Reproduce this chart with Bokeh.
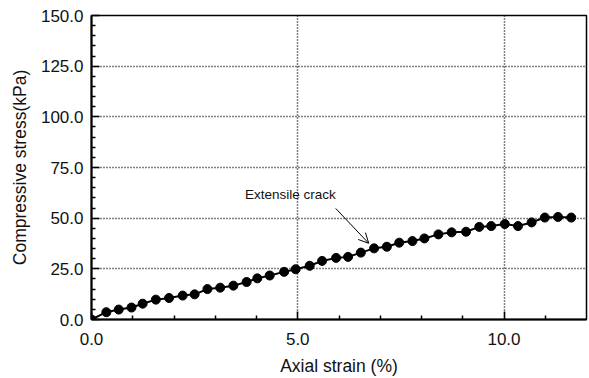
from bokeh.plotting import figure
from bokeh.models import Range1d, FixedTicker, PrintfTickFormatter, Arrow, OpenHead, Label
from bokeh.embed import file_html
from bokeh.resources import INLINE

strain = [0.0, 0.36, 0.66, 0.97, 1.24, 1.56, 1.88, 2.21, 2.50, 2.81, 3.12, 3.44, 3.76, 4.02,
          4.32, 4.67, 4.95, 5.29, 5.59, 5.93, 6.22, 6.53, 6.85, 7.16, 7.46, 7.78, 8.07, 8.41,
          8.73, 9.08, 9.40, 9.69, 10.02, 10.34, 10.67, 10.99, 11.31, 11.63]
stress = [0.0, 3.6, 4.9, 5.9, 7.8, 9.8, 10.6, 11.8, 12.4, 15.0, 15.7, 16.7, 18.5, 20.3,
          21.7, 23.5, 24.8, 26.5, 28.9, 30.4, 30.9, 33.0, 35.1, 35.9, 37.9, 38.7, 40.0, 42.0,
          43.0, 43.3, 45.7, 46.1, 47.1, 46.1, 47.9, 50.3, 50.6, 50.3]

x_ticks = [0, 5, 10]
y_ticks = [0, 25, 50, 75, 100, 125, 150]
x_grid = [5, 10]
y_grid = [25, 50, 75, 100, 125]

annot_text = "Extensile crack"
annot_pos = (3.72, 61.8)
arrow_tail = (5.92, 54.8)
arrow_head = (6.72, 37.6)

FONT = "Liberation Sans"

p = figure(width=589, height=378, output_backend="svg", toolbar_location=None,
           x_range=Range1d(0, 12), y_range=Range1d(0, 150),
           min_border_left=91, min_border_right=3, min_border_top=15, min_border_bottom=58)
p.background_fill_color = "white"
p.border_fill_color = "white"
p.outline_line_color = "black"
p.outline_line_width = 1.5

# axes
for ax in (p.xaxis[0], p.yaxis[0]):
    ax.axis_line_color = "black"
    ax.axis_line_width = 2
    ax.major_tick_in = 8
    ax.major_tick_out = 0
    ax.minor_tick_in = 4
    ax.minor_tick_out = 0
    ax.major_tick_line_color = "black"
    ax.minor_tick_line_color = "black"
    ax.major_tick_line_width = 1.5
    ax.minor_tick_line_width = 1.5
    ax.major_label_text_font = FONT
    ax.major_label_text_font_size = "17px"
    ax.major_label_text_color = "#111111"
    ax.axis_label_text_font = FONT
    ax.axis_label_text_font_size = "17.5px"
    ax.axis_label_text_font_style = "normal"
    ax.axis_label_text_color = "#111111"
    ax.formatter = PrintfTickFormatter(format="%.1f")

p.xaxis[0].ticker = FixedTicker(ticks=x_ticks, minor_ticks=[1, 2, 3, 4, 6, 7, 8, 9, 11])
p.yaxis[0].ticker = FixedTicker(ticks=y_ticks, minor_ticks=[v for v in range(0, 151, 5) if v % 25])
p.xaxis[0].axis_label = "Axial strain (%)"
p.yaxis[0].axis_label = "Compressive stress(kPa)"
p.xaxis[0].major_label_standoff = 13
p.xaxis[0].axis_label_standoff = 8
p.yaxis[0].major_label_standoff = 8
p.yaxis[0].axis_label_standoff = 8

# grid
p.xgrid[0].ticker = FixedTicker(ticks=x_grid)
p.ygrid[0].ticker = FixedTicker(ticks=y_grid)
for g in (p.xgrid[0], p.ygrid[0]):
    g.grid_line_color = "black"
    g.grid_line_dash = "1 2"
    g.grid_line_width = 1.5

p.line(strain, stress, line_color="black", line_width=2)
p.scatter(strain, stress, size=9, fill_color="black", line_color="black")

p.add_layout(Label(x=annot_pos[0], y=annot_pos[1], text=annot_text, text_font=FONT,
                   text_font_size="13.5px", text_baseline="middle", text_align="left",
                   text_color="#111111"))
p.add_layout(Arrow(end=OpenHead(size=10, line_width=1, line_color="black"),
                   x_start=arrow_tail[0], y_start=arrow_tail[1],
                   x_end=arrow_head[0], y_end=arrow_head[1],
                   line_color="black", line_width=1))

open("out.html", "w").write(file_html(p, INLINE))
